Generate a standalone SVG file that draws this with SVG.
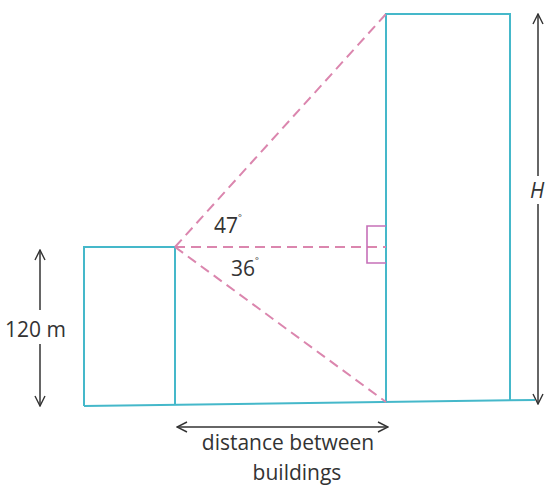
<svg xmlns="http://www.w3.org/2000/svg" width="548" height="487" viewBox="0 0 548 487">
<defs>
<marker id="ah" viewBox="0 0 12 12" refX="11" refY="6" markerWidth="12" markerHeight="12" markerUnits="userSpaceOnUse" orient="auto-start-reverse">
<path d="M1,1 L11,6 L1,11" fill="none" stroke="#333" stroke-width="1.4"/>
</marker>
<style>
.bld{fill:none;stroke:#45b8ca;stroke-width:2}
.dash{fill:none;stroke:#db86ae;stroke-width:2;stroke-dasharray:10 6}
.sq{fill:none;stroke:#c670b8;stroke-width:1.6}
.dim{fill:none;stroke:#333;stroke-width:1.5}
.t{font-family:"Open Sans","Liberation Sans",sans-serif;font-size:21px;fill:#333}
</style>
</defs>
<rect width="548" height="487" fill="#fff"/>
<g id="ground"><path class="bld" d="M84,406 L535,400"/></g>
<g id="left-building"><path class="bld" d="M84,406 L84,247 L175,247 L175,405"/></g>
<g id="tall-building"><path class="bld" d="M386,402 L386,14 L510,14 L510,400"/></g>
<g id="connectors">
<path class="dash" d="M175,247 L386,14"/>
<path class="dash" d="M175,247 L386,247"/>
<path class="dash" d="M175,247 L386,402"/>
<path class="sq" d="M386,226 L367,226 L367,263 L386,263"/>
<path class="dim" d="M40,310 L40,250" marker-end="url(#ah)"/>
<path class="dim" d="M40,344 L40,406" marker-end="url(#ah)"/>
<path class="dim" d="M538,176 L538,14" marker-end="url(#ah)"/>
<path class="dim" d="M538,204 L538,404" marker-end="url(#ah)"/>
<path class="dim" d="M177,427 L388,427" marker-start="url(#ah)" marker-end="url(#ah)"/>
</g>
<g id="labels">
<text class="t" x="214" y="233">47<tspan font-size="9" dy="-12">°</tspan></text>
<text class="t" x="231" y="276">36<tspan font-size="9" dy="-12">°</tspan></text>
<text class="t" x="5" y="337">120 m</text>
<text class="t" x="530" y="198" font-style="italic">H</text>
<text class="t" x="288" y="450" text-anchor="middle">distance between</text>
<text class="t" x="297" y="480" text-anchor="middle">buildings</text>
</g>
</svg>
